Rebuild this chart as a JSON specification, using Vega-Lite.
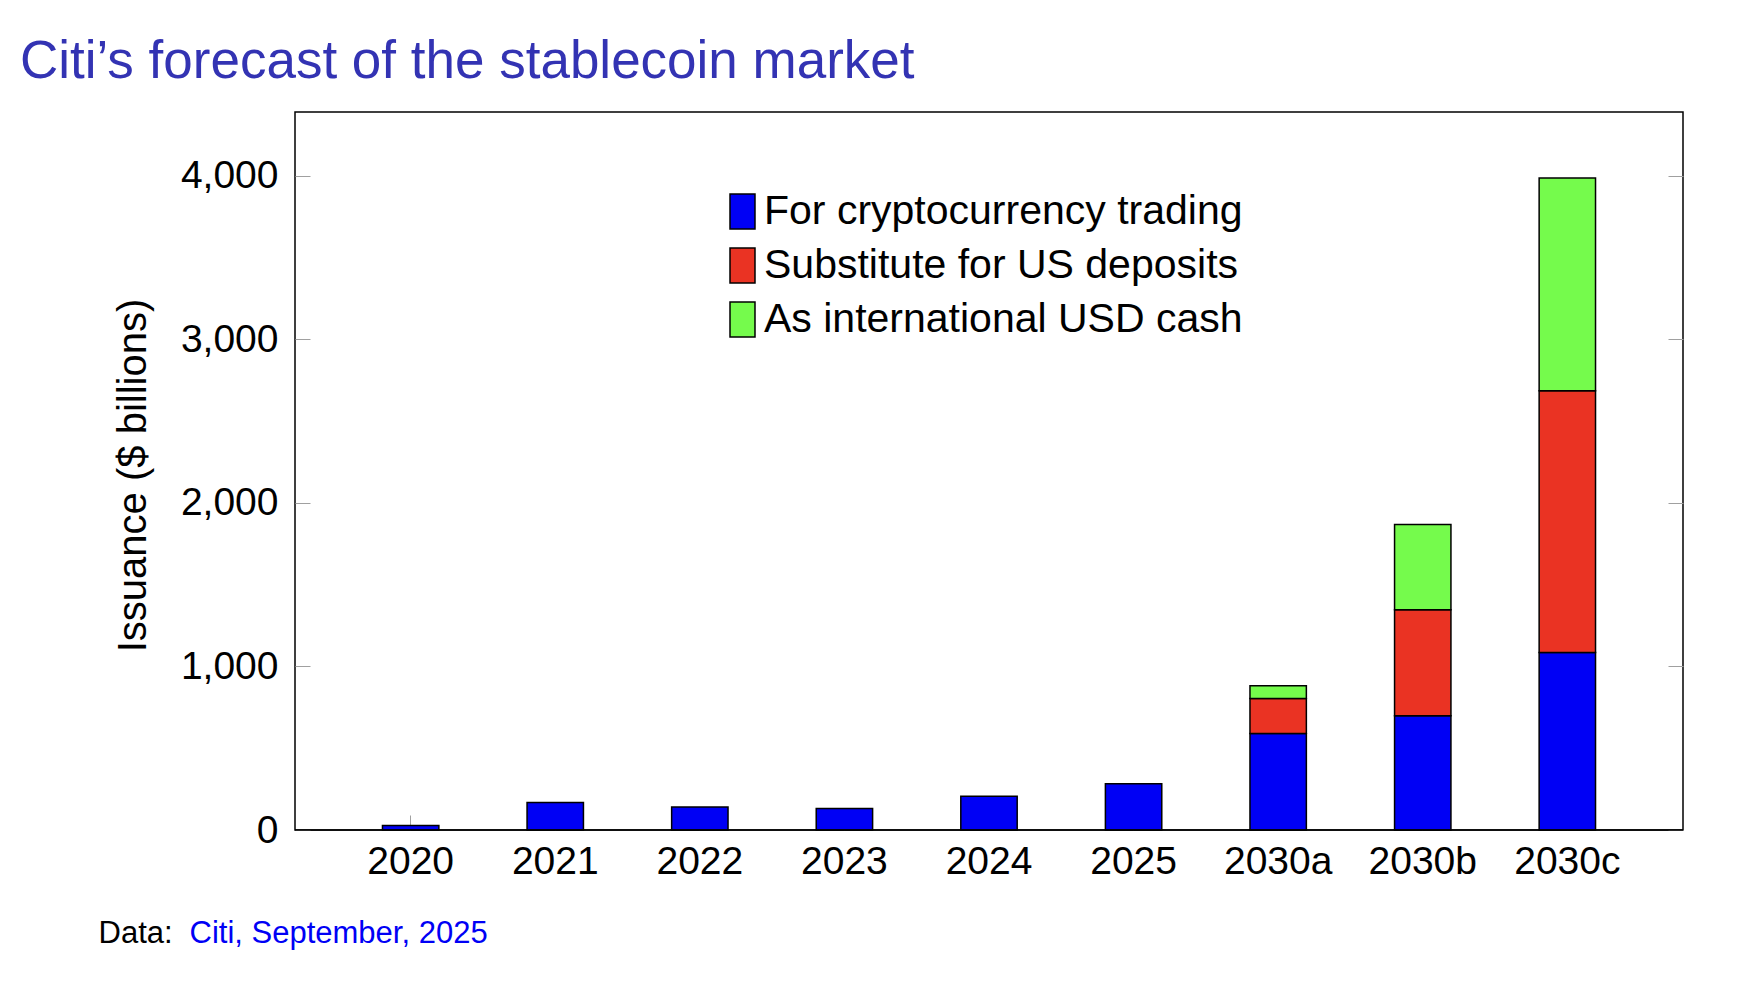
{
  "$schema": "https://vega.github.io/schema/vega-lite/v6.json",
  "width": 1388,
  "height": 718,
  "autosize": {"type": "none"},
  "padding": {"left": 295, "top": 112, "right": 75, "bottom": 164},
  "background": "white",
  "config": {"font": "Liberation Sans", "view": {"stroke": "black", "strokeWidth": 1.5}},
  "title": {
    "text": "Citi’s forecast of the stablecoin market",
    "anchor": "start",
    "frame": "group",
    "dx": -275,
    "dy": 52,
    "offset": 33,
    "baseline": "alphabetic",
    "fontSize": 53,
    "fontWeight": "normal",
    "color": "#3333B3"
  },
  "datasets": {
    "uses": [
      {"use": "For cryptocurrency trading", "rank": 1},
      {"use": "Substitute for US deposits", "rank": 2},
      {"use": "As international USD cash", "rank": 3}
    ]
  },
  "data": {
    "values": [
      {"year": "2020", "use": "For cryptocurrency trading", "value": 28},
      {"year": "2021", "use": "For cryptocurrency trading", "value": 168},
      {"year": "2022", "use": "For cryptocurrency trading", "value": 140},
      {"year": "2023", "use": "For cryptocurrency trading", "value": 132},
      {"year": "2024", "use": "For cryptocurrency trading", "value": 207},
      {"year": "2025", "use": "For cryptocurrency trading", "value": 283},
      {"year": "2030a", "use": "For cryptocurrency trading", "value": 590},
      {"year": "2030a", "use": "Substitute for US deposits", "value": 214},
      {"year": "2030a", "use": "As international USD cash", "value": 78},
      {"year": "2030b", "use": "For cryptocurrency trading", "value": 698},
      {"year": "2030b", "use": "Substitute for US deposits", "value": 649},
      {"year": "2030b", "use": "As international USD cash", "value": 521},
      {"year": "2030c", "use": "For cryptocurrency trading", "value": 1086},
      {"year": "2030c", "use": "Substitute for US deposits", "value": 1599},
      {"year": "2030c", "use": "As international USD cash", "value": 1301}
    ]
  },
  "layer": [
    {
      "transform": [
        {"lookup": "use", "from": {"data": {"name": "uses"}, "key": "use", "fields": ["rank"]}}
      ],
      "mark": {"type": "bar", "stroke": "black", "strokeWidth": 1.5},
      "encoding": {
        "x": {
          "field": "year",
          "type": "nominal",
          "sort": ["2020", "2021", "2022", "2023", "2024", "2025", "2030a", "2030b", "2030c"],
          "scale": {"paddingInner": 0.61, "paddingOuter": 0.605},
          "axis": {
            "title": "Citi, September, 2025",
            "titleColor": "#0000F5",
            "titleFontSize": 31,
            "titleFontWeight": "normal",
            "titleX": -106,
            "titleY": 112,
            "titleAngle": 0,
            "titleAlign": "left",
            "titleBaseline": "alphabetic",
            "labelAngle": 0,
            "labelFontSize": 39,
            "labelColor": "black",
            "labelPadding": 27,
            "tickSize": -15,
            "tickColor": "#A0A0A0",
            "tickWidth": 1,
            "domain": false,
            "grid": false
          }
        },
        "y": {
          "field": "value",
          "type": "quantitative",
          "stack": "zero",
          "scale": {"domain": [0, 4390], "nice": false},
          "axis": {
            "title": "Issuance ($ billions)",
            "values": [0, 1000, 2000, 3000, 4000],
            "format": ",.0f",
            "labelFontSize": 39,
            "labelColor": "black",
            "labelPadding": 32,
            "tickSize": -15,
            "tickColor": "#A0A0A0",
            "tickWidth": 1,
            "domain": false,
            "grid": false,
            "titleFontSize": 40,
            "titleFontWeight": "normal",
            "titleColor": "black",
            "titleX": -162,
            "titleY": 363,
            "titleBaseline": "middle"
          }
        },
        "order": {"field": "rank", "type": "quantitative", "sort": "ascending"},
        "color": {
          "field": "use",
          "type": "nominal",
          "sort": ["For cryptocurrency trading", "Substitute for US deposits", "As international USD cash"],
          "scale": {
            "domain": ["For cryptocurrency trading", "Substitute for US deposits", "As international USD cash"],
            "range": ["#0000F5", "#EA3323", "#75FB4C"]
          },
          "legend": {
            "title": null,
            "orient": "none",
            "legendX": 427,
            "legendY": 79,
            "labelFontSize": 41,
            "labelColor": "black",
            "labelLimit": 0,
            "labelOffset": 1,
            "symbolType": "M-0.714,-1H0.714V1H-0.714Z",
            "symbolSize": 1225,
            "symbolStrokeColor": "black",
            "symbolStrokeWidth": 1.5,
            "symbolOpacity": 1,
            "rowPadding": 12
          }
        }
      }
    },
    {
      "data": {"values": [{"level": 0}]},
      "mark": {"type": "rule", "color": "black", "strokeWidth": 1.5},
      "encoding": {
        "y": {
          "field": "level",
          "type": "quantitative",
          "axis": {
            "orient": "right",
            "labels": false,
            "values": [0, 1000, 2000, 3000, 4000],
            "tickSize": -15,
            "tickColor": "#A0A0A0",
            "tickWidth": 1,
            "domain": false,
            "grid": false,
            "title": "Data:",
            "titleColor": "black",
            "titleFontSize": 31,
            "titleFontWeight": "normal",
            "titleX": -1585,
            "titleY": 830,
            "titleAngle": 0,
            "titleAlign": "left",
            "titleBaseline": "alphabetic"
          }
        }
      }
    }
  ],
  "resolve": {"axis": {"y": "independent"}}
}
